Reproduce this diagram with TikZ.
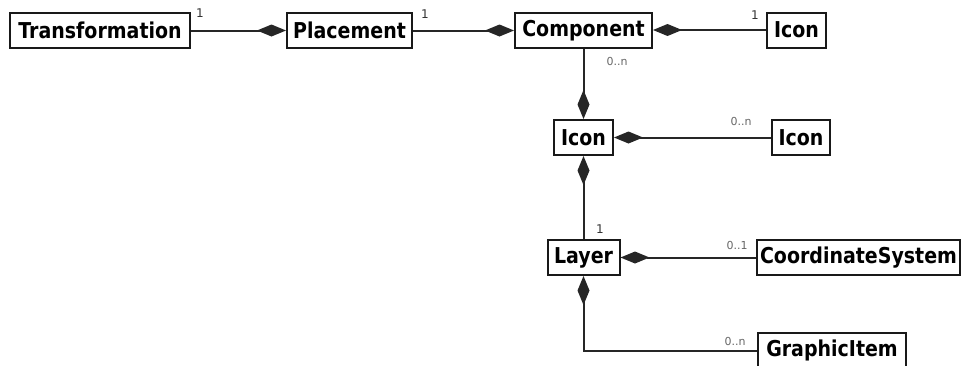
\documentclass[tikz,border=0pt]{standalone}
\usepackage{fontspec}
\setmainfont{DejaVu Sans}
\usetikzlibrary{arrows.meta}
\tikzset{
  cls/.style={draw=black!90, line width=2pt, fill=white, inner sep=0pt,
    minimum height=35pt, font=\fontsize{19}{22}\selectfont\bfseries},
  link/.style={line width=2pt, draw=black!85,
    -{Diamond[length=29pt,width=12pt]}},
  mult/.style={font=\fontsize{11}{13}\selectfont, text=black!60, inner sep=0pt},
  one/.style={font=\fontsize{12}{13}\selectfont, text=black!80, inner sep=0pt},
}
\newcommand{\tall}[1]{\scalebox{1}[1.15]{#1}}
\begin{document}
\begin{tikzpicture}[x=1pt,y=-1pt]
\useasboundingbox (0,0) rectangle (965,365);
% classes
\node[cls, minimum width=180pt] (trans)  at (100,30.5)   {\tall{Transformation}};
\node[cls, minimum width=125pt] (place)  at (349.5,30.5) {\tall{Placement}};
\node[cls, minimum width=137pt] (comp)   at (583.5,30.5) {\tall{Component}};
\node[cls, minimum width=59pt]  (iconA)  at (796.5,30)   {\tall{Icon}};
\node[cls, minimum width=59pt]  (iconM)  at (583.5,137.5) {\tall{Icon}};
\node[cls, minimum width=58pt]  (iconB)  at (801,137.5)  {\tall{Icon}};
\node[cls, minimum width=72pt]  (layer)  at (583.5,257.5) {\tall{Layer}};
\node[cls, minimum width=203pt] (coord)  at (858.5,257.5) {\tall{CoordinateSystem}};
\node[cls, minimum width=148pt] (gitem)  at (832,350.5)  {\tall{GraphicItem}};
% compositions
\draw[link] (trans.east) -- (place.west);
\draw[link] (place.east) -- (comp.west);
\draw[link] (iconA.west) -- (comp.east |- iconA.west);
\draw[link] (comp.south) -- (iconM.north);
\draw[link] (iconB.west) -- (iconM.east);
\draw[link] (layer.north) -- (iconM.south);
\draw[link] (coord.west) -- (layer.east);
\draw[link] (gitem.west) -| (layer.south);
% multiplicities
\node[one]  (m1) at (200,13)  {1};
\node[one]  (m2) at (425,14)  {1};
\node[one]  (m3) at (755,15)  {1};
\node[mult] (m4) at (617,61)  {0..n};
\node[mult] (m5) at (741,121) {0..n};
\node[one]  (m6) at (600,229) {1};
\node[mult] (m7) at (737,245) {0..1};
\node[mult] (m8) at (735,341) {0..n};
\end{tikzpicture}
\end{document}
